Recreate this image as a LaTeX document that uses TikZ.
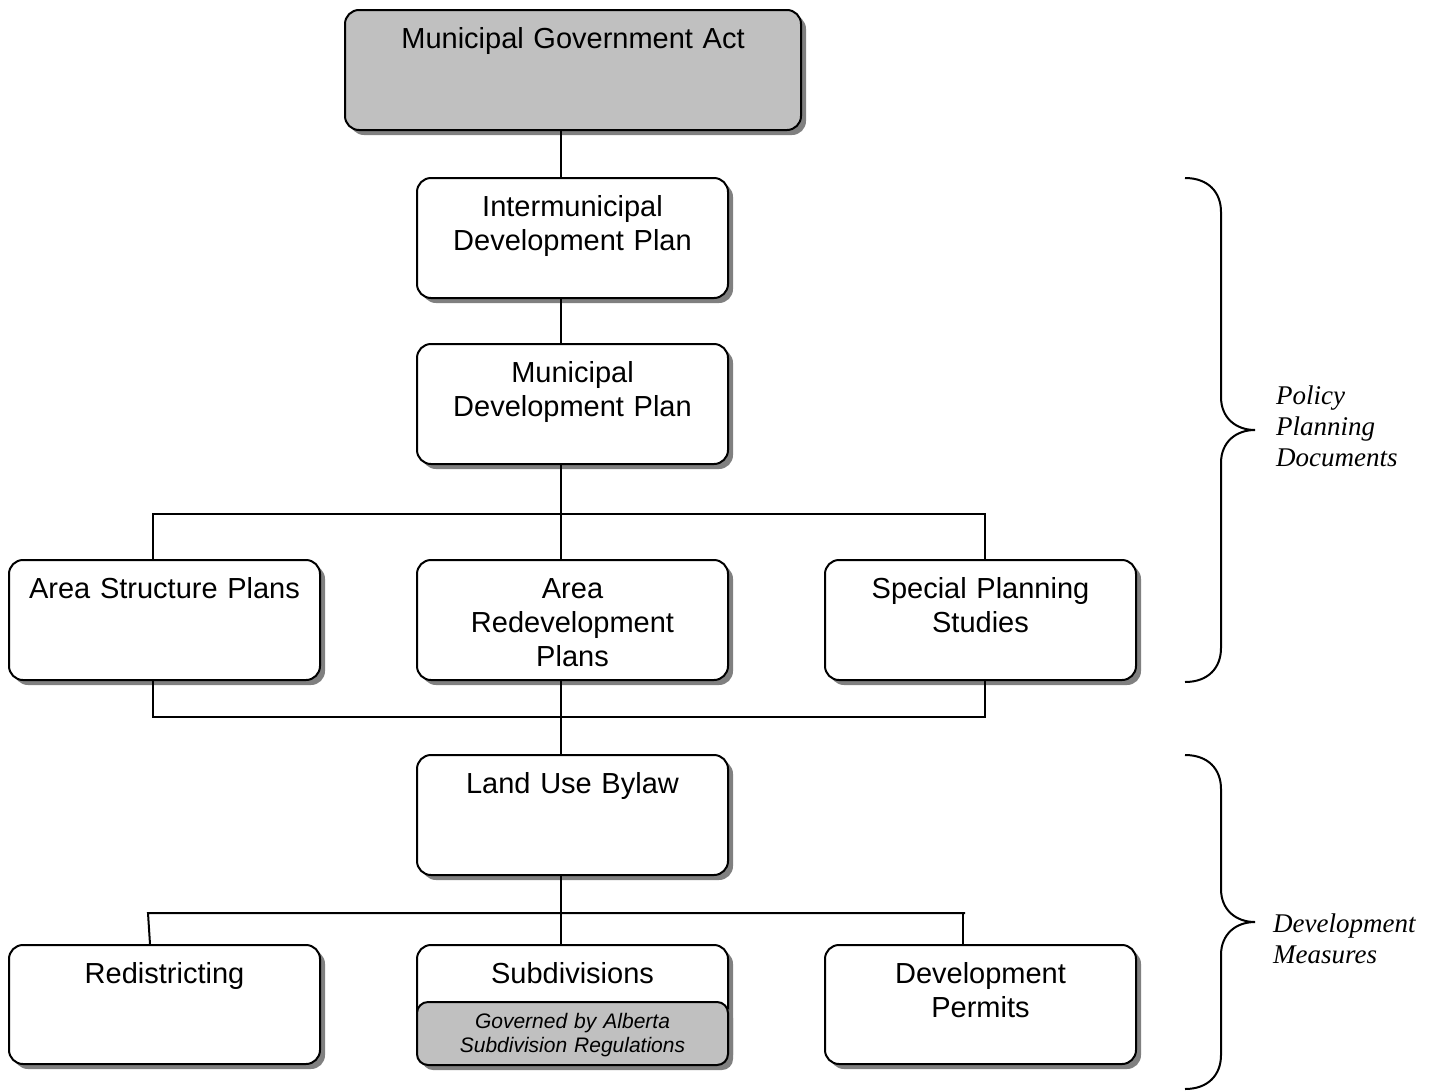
\documentclass[tikz,border=0pt]{standalone}
\usepackage{fontspec}
\setmainfont{Liberation Sans}
\newfontfamily\timesfont{Liberation Serif}
\usetikzlibrary{shadows}
\definecolor{boxgray}{HTML}{C0C0C0}
\definecolor{shadowgray}{HTML}{808080}
\begin{document}
\begin{tikzpicture}[x=1pt,y=-1pt,
  box/.style={draw=black, line width=2pt, rounded corners=14pt, fill=white,
    minimum width=311pt, minimum height=120pt, inner sep=0pt,
    drop shadow={shadow xshift=5pt, shadow yshift=-5pt, fill=shadowgray, opacity=1}},
  txt/.style={anchor=base, text width=300pt, align=center, inner sep=0pt,
    font=\fontsize{29}{34}\selectfont},
  subtxt/.style={anchor=base, text width=300pt, align=center, inner sep=0pt,
    font=\itshape\fontsize{21}{24}\selectfont},
  lbl/.style={anchor=base west, text width=170pt, align=left, inner sep=0pt,
    font=\timesfont\itshape\fontsize{27}{31}\selectfont},
  conn/.style={draw=black, line width=2pt},
  bracestyle/.style={draw=black, line width=2pt}]
\useasboundingbox (0,0) rectangle (1439,1090);

% boxes
\node[box, fill=boxgray, minimum width=456pt] (mga) at (573,70) {};
\node[box] (idp) at (572.5,238) {};
\node[box] (mdp) at (572.5,404) {};
\node[box] (asp) at (164.5,620) {};
\node[box] (arp) at (572.5,620) {};
\node[box] (sps) at (980.5,620) {};
\node[box] (lub) at (572.5,815) {};
\node[box, minimum height=119pt] (red) at (164.5,1004.5) {};
\node[box, minimum height=119pt] (sub) at (572.5,1004.5) {};
\node[box, fill=boxgray, minimum height=63pt, rounded corners=11pt] (subin) at (572.5,1033.5) {};
\node[box, minimum height=119pt] (dp) at (980.5,1004.5) {};

% texts
\node[txt, text width=440pt] (mgat) at (573,48) {Municipal Government Act};
\node[txt] (idpt) at (572.5,216) {Intermunicipal\\Development Plan};
\node[txt] (mdpt) at (572.5,382) {Municipal\\Development Plan};
\node[txt] (aspt) at (164.5,598) {Area Structure Plans};
\node[txt] (arpt) at (572.5,598) {Area\\Redevelopment\\Plans};
\node[txt] (spst) at (980.5,598) {Special Planning\\Studies};
\node[txt] (lubt) at (572.5,793) {Land Use Bylaw};
\node[txt] (redt) at (164.5,983) {Redistricting};
\node[txt] (subt) at (572.5,983) {Subdivisions};
\node[subtxt] (subint) at (572.5,1028) {Governed by Alberta\\Subdivision Regulations};
\node[txt] (dpt) at (980.5,983) {Development\\Permits};

% connector helper coordinates
\coordinate (spine) at (561,0);
\coordinate (b1l) at (153,514);
\coordinate (b1r) at (985,514);
\coordinate (b2l) at (153,717);
\coordinate (b2r) at (985,717);
\coordinate (b3l) at (148,913);
\coordinate (b3r) at (963,913);
\coordinate (rtap) at (150,0);

% connectors
\draw[conn] (mga.south -| spine) -- (idp.north -| spine);
\draw[conn] (idp.south -| spine) -- (mdp.north -| spine);
\draw[conn] (mdp.south -| spine) -- (arp.north -| spine);
\draw[conn] (asp.north -| b1l) -- (b1l) -- (b1r) -- (sps.north -| b1r);
\draw[conn] (asp.south -| b2l) -- (b2l) -- (b2r) -- (sps.south -| b2r);
\draw[conn] (arp.south -| spine) -- (lub.north -| spine);
\draw[conn] (lub.south -| spine) -- (sub.north -| spine);
\draw[conn] (red.north -| rtap) -- (b3l) -- ([xshift=2pt]b3r);
\draw[conn] (b3r) -- (dp.north -| b3r);

% braces
\coordinate (pbt) at (1185,178);
\coordinate (pbb) at (1185,682);
\coordinate (pbtip) at (1255,430);
\draw[bracestyle] (pbt) .. controls (1208,178) and (1221,192) .. (1221,212)
  -- (1221,397) .. controls (1221,418) and (1236,430) .. (pbtip)
  .. controls (1236,430) and (1221,442) .. (1221,463)
  -- (1221,648) .. controls (1221,668) and (1208,682) .. (pbb);
\coordinate (dbt) at (1185,755);
\coordinate (dbb) at (1185,1089);
\coordinate (dbtip) at (1255,922);
\draw[bracestyle] (dbt) .. controls (1208,755) and (1221,769) .. (1221,789)
  -- (1221,889) .. controls (1221,910) and (1236,922) .. (dbtip)
  .. controls (1236,922) and (1221,934) .. (1221,955)
  -- (1221,1055) .. controls (1221,1075) and (1208,1089) .. (dbb);

% brace labels
\node[lbl] (pol) at (1276,404) {Policy\\Planning\\Documents};
\node[lbl] (dev) at (1273,932) {Development\\Measures};
\end{tikzpicture}
\end{document}
